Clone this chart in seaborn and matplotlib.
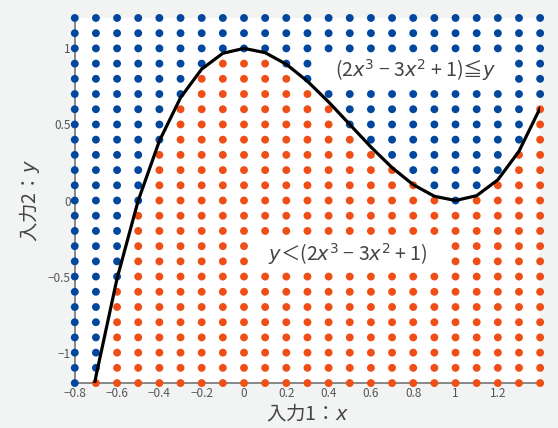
import numpy as np
import pandas as pd
import matplotlib
matplotlib.use("Agg")
import matplotlib.pyplot as plt
from matplotlib.patches import Rectangle
import seaborn as sns

# grid of input points
grid_x = [-0.8, -0.7, -0.6, -0.5, -0.4, -0.3, -0.2, -0.1, 0.0, 0.1, 0.2, 0.3,
          0.4, 0.5, 0.6, 0.7, 0.8, 0.9, 1.0, 1.1, 1.2, 1.3, 1.4]
grid_y = [-1.2, -1.1, -1.0, -0.9, -0.8, -0.7, -0.6, -0.5, -0.4, -0.3, -0.2, -0.1,
          0.0, 0.1, 0.2, 0.3, 0.4, 0.5, 0.6, 0.7, 0.8, 0.9, 1.0, 1.1, 1.2]
# boundary curve values at each grid column
curve_y = [-1.944, -1.156, -0.512, 0.0, 0.392, 0.676, 0.864, 0.968, 1.0, 0.972,
           0.896, 0.784, 0.648, 0.5, 0.352, 0.216, 0.104, 0.028, 0.0, 0.032,
           0.136, 0.324, 0.608]

xtick_vals = [-0.8, -0.6, -0.4, -0.2, 0, 0.2, 0.4, 0.6, 0.8, 1, 1.2]
xtick_labels = ["\u22120.8", "\u22120.6", "\u22120.4", "\u22120.2", "0", "0.2",
                "0.4", "0.6", "0.8", "1", "1.2"]
ytick_vals = [-1, -0.5, 0, 0.5, 1]
ytick_labels = ["\u22121", "\u22120.5", "0", "0.5", "1"]

blue = "#00479D"
orange = "#EF4E17"

sns.set_style("white")
plt.rcParams['font.family'] = ['Noto Sans CJK JP', 'DejaVu Sans']
plt.rcParams['mathtext.fontset'] = 'custom'
plt.rcParams['mathtext.rm'] = 'DejaVu Sans'
plt.rcParams['mathtext.it'] = 'DejaVu Sans:italic'

rows = []
for cx, fy in zip(grid_x, curve_y):
    for gy in grid_y:
        rows.append({"x": cx, "y": gy, "cls": "above" if gy >= fy - 1e-9 else "below"})
df = pd.DataFrame(rows)
dfCurve = pd.DataFrame({"x": grid_x, "y": curve_y})

fig = plt.figure(figsize=(5.58, 4.28), dpi=100, facecolor="#F2F3F3")
ax = fig.add_axes([0.134, 0.105, 0.834, 0.853])
ax.set_facecolor("white")

sns.scatterplot(data=df, x="x", y="y", hue="cls",
                palette={"above": blue, "below": orange},
                s=32, linewidth=0, legend=False, ax=ax, zorder=2)
for coll in ax.collections:
    coll.set_clip_on(False)
sns.lineplot(data=dfCurve, x="x", y="y", color="black", linewidth=2.3,
             ax=ax, zorder=3)

ax.set_xlim(-0.8, 1.4)
ax.set_ylim(-1.2, 1.2)
ax.set_xticks(xtick_vals)
ax.set_xticklabels(xtick_labels)
ax.set_yticks(ytick_vals)
ax.set_yticklabels(ytick_labels)
ax.tick_params(length=0, labelsize=8.5, labelcolor="#555555", pad=3)

for side in ["top", "right"]:
    ax.spines[side].set_visible(False)
for side in ["left", "bottom"]:
    ax.spines[side].set_color("#888888")
    ax.spines[side].set_linewidth(1.4)
    ax.spines[side].set_zorder(1)

ax.set_xlabel("入力1：$x$", fontsize=14, color="#444444", labelpad=2)
ax.set_ylabel("入力2：$y$", fontsize=14, color="#444444", labelpad=4)

# white panels behind the two region labels
ax.add_patch(Rectangle((0.35, 0.75), 0.9, 0.2, facecolor="white",
                       edgecolor="none", zorder=2.5))
ax.add_patch(Rectangle((0.05, -0.45), 0.9, 0.2, facecolor="white",
                       edgecolor="none", zorder=2.5))
ax.text(0.81, 0.855, "(2$x^3$ \u2212 3$x^2$ + 1)\u2266$y$", fontsize=14,
        color="#444444", ha="center", va="center", zorder=4)
ax.text(0.49, -0.35, "$y$\uff1c(2$x^3$ \u2212 3$x^2$ + 1)", fontsize=14,
        color="#444444", ha="center", va="center", zorder=4)

plt.savefig("out.png", dpi=100, facecolor=fig.get_facecolor())
